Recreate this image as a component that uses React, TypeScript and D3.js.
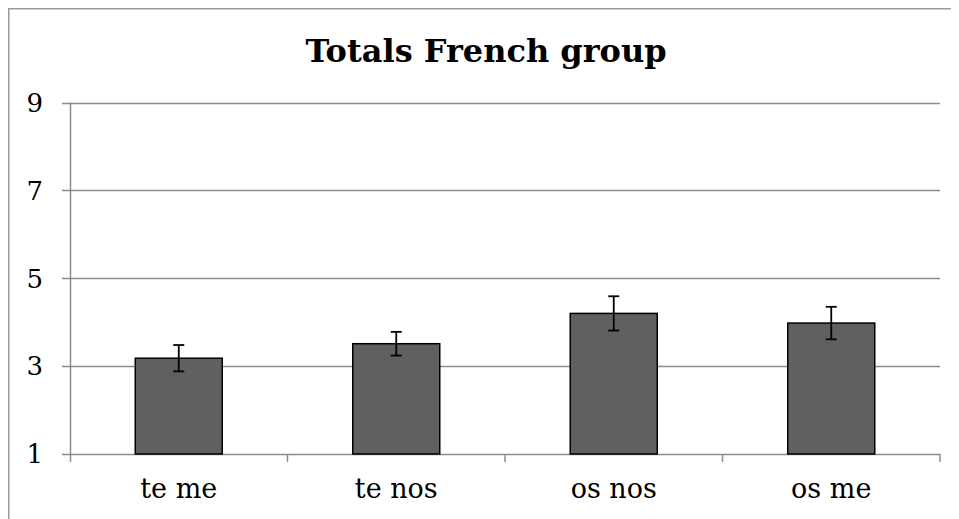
import * as d3 from 'd3'

const categories = ['te me', 'te nos', 'os nos', 'os me']
const means = [3.18, 3.51, 4.2, 3.98]
const errors = [0.3, 0.27, 0.39, 0.37]
const yTicks = [1, 3, 5, 7, 9]

// the chart frame runs past the window on the right and bottom, so only its left and top edges show
const width = 951, height = 511
const margin = { top: 94.5, right: 19, bottom: 65, left: 62 }
const font = "'DejaVu Serif', serif"

export default function App() {
  const x = d3.scaleBand()
    .domain(categories)
    .range([margin.left, width - margin.right])
    .paddingInner(0.6)
    .paddingOuter(0.3)
  const band = d3.scaleBand()
    .domain(categories)
    .range([margin.left, width - margin.right])
  const y = d3.scaleLinear()
    .domain([1, 9])
    .range([height - margin.bottom, margin.top])

  const x0 = margin.left, x1 = width - margin.right
  const y0 = y(1)
  const boundaries = [...categories.map(c => band(c)), x1]

  return (
    <>
      <style>{'html{overflow:hidden}'}</style>
      <svg width={width} height={height} style={{ display: 'block' }}>
        <rect x={0} y={0} width={width} height={height} fill="white" />
        <path d={`M0.75,${height}V0.75H${width}`} fill="none" stroke="#9a9a9a" strokeWidth={1.5} />
        <text x={478} y={54} textAnchor="middle"
          fontFamily={font} fontWeight="bold" fontSize={32}>Totals French group</text>
        {yTicks.map(t => (
          <g key={t}>
            <line x1={x0 - 8} x2={x1} y1={Math.round(y(t)) + 0.5} y2={Math.round(y(t)) + 0.5}
              stroke="#8c8c8c" strokeWidth={1.5} />
            <text x={35} y={y(t)} dy="0.36em" textAnchor="end"
              fontFamily={font} fontSize={26}>{t}</text>
          </g>
        ))}
        <line x1={x0 + 0.5} x2={x0 + 0.5} y1={y(9)} y2={y0 + 8} stroke="#8c8c8c" strokeWidth={1.5} />
        {boundaries.slice(1).map((b, i) => (
          <line key={i} x1={b} x2={b} y1={y0} y2={y0 + 8} stroke="#8c8c8c" strokeWidth={1.5} />
        ))}
        {categories.map((c, i) => {
          const bx = x(c)!
          const cx = bx + x.bandwidth() / 2
          return (
            <g key={c}>
              <rect x={bx} y={y(means[i])} width={x.bandwidth()} height={y0 - y(means[i])}
                fill="#606060" stroke="#000" strokeWidth={1.5} />
              <line x1={cx} x2={cx} y1={y(means[i] + errors[i])} y2={y(means[i] - errors[i])}
                stroke="#000" strokeWidth={1.8} />
              <line x1={cx - 5.5} x2={cx + 5.5} y1={y(means[i] + errors[i])} y2={y(means[i] + errors[i])}
                stroke="#000" strokeWidth={1.8} />
              <line x1={cx - 5.5} x2={cx + 5.5} y1={y(means[i] - errors[i])} y2={y(means[i] - errors[i])}
                stroke="#000" strokeWidth={1.8} />
              <text x={cx} y={490} textAnchor="middle" fontFamily={font} fontSize={27}>{c}</text>
            </g>
          )
        })}
      </svg>
    </>
  )
}
